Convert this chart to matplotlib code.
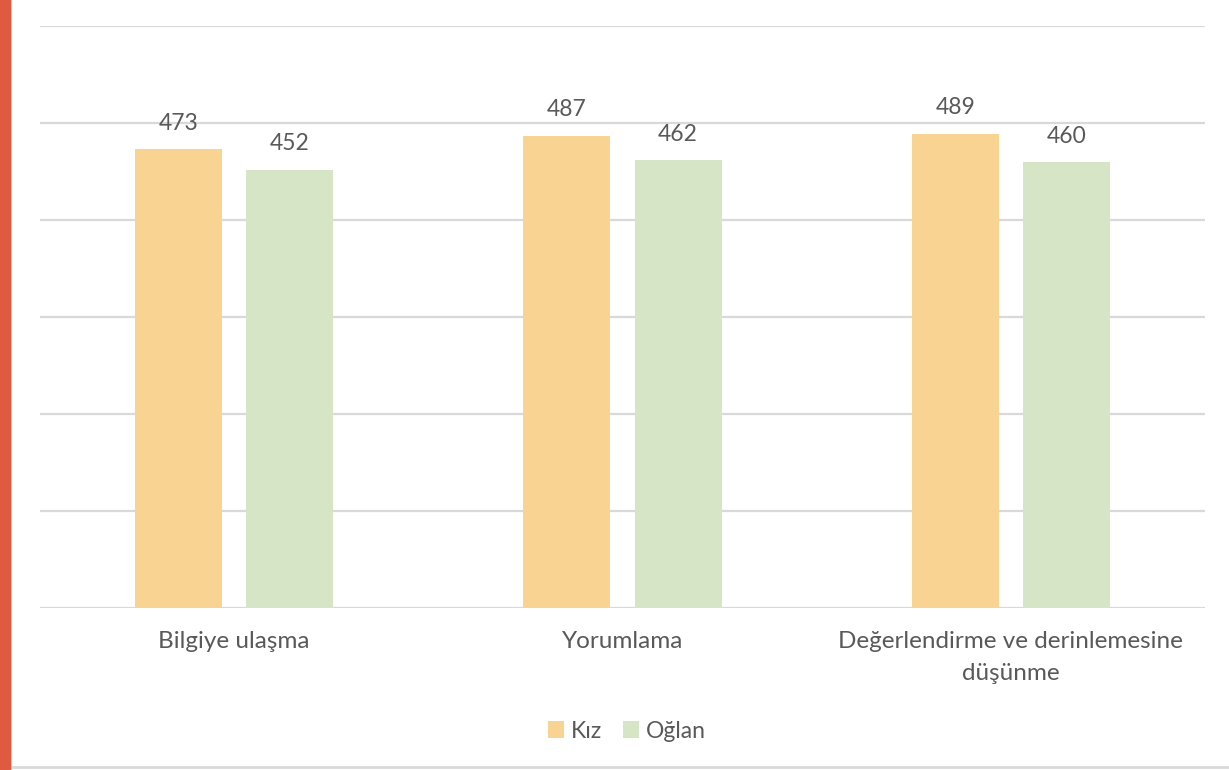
import matplotlib.pyplot as plt
import numpy as np
from matplotlib.patches import Rectangle
from matplotlib.lines import Line2D

categories = ["Bilgiye ulaşma", "Yorumlama", "Değerlendirme ve derinlemesine\ndüşünme"]
series = ["Kız", "Oğlan"]
kiz = [473, 487, 489]
oglan = [452, 462, 460]
colors = ["#F8D392", "#D5E5C6"]
text_color = "#595959"

plt.rcParams["font.family"] = ["Lato", "DejaVu Sans"]

fig = plt.figure(figsize=(12.29, 7.70), dpi=100)
ax = fig.add_axes([40 / 1229, 1 - 608 / 770, 1165 / 1229, 582 / 770])

x = np.arange(len(categories))
w = 0.224
off = 0.143
b1 = ax.bar(x - off, kiz, w, color=colors[0], label=series[0], zorder=2)
b2 = ax.bar(x + off, oglan, w, color=colors[1], label=series[1], zorder=2)

for bars in (b1, b2):
    ax.bar_label(bars, padding=11, fontsize=16.5, color=text_color)

ax.set_xlim(-0.5, 2.5)
ax.set_ylim(0, 600)
ax.set_yticks(np.arange(0, 601, 100))
ax.yaxis.grid(True, color="#D9D9D9", linewidth=1.6, zorder=0)
ax.set_axisbelow(True)
ax.tick_params(axis="y", left=False, labelleft=False)
ax.tick_params(axis="x", bottom=False, pad=13)
ax.set_xticks(x)
ax.set_xticklabels(categories, fontsize=17.5, color=text_color, linespacing=1.68)
for s in ax.spines.values():
    s.set_visible(False)

leg = ax.legend(loc="center", bbox_to_anchor=(627 / 1229, 1 - 731 / 770),
                bbox_transform=fig.transFigure, ncol=2, frameon=False,
                fontsize=16.5, handlelength=0.7, handleheight=0.7,
                handletextpad=0.3, columnspacing=0.9)
for t in leg.get_texts():
    t.set_color(text_color)

# left accent bar and bottom border
fig.patches.append(Rectangle((0, 0), 10 / 1229, 1, transform=fig.transFigure,
                             color="#E05A40", zorder=5))
fig.lines.append(Line2D([10.5 / 1229, 10.5 / 1229], [0, 1], transform=fig.transFigure,
                        color="#D9D9D9", linewidth=1.2))
fig.lines.append(Line2D([10 / 1229, 1], [3 / 770, 3 / 770], transform=fig.transFigure,
                        color="#D9D9D9", linewidth=2))

fig.savefig("out.png", dpi=100)
